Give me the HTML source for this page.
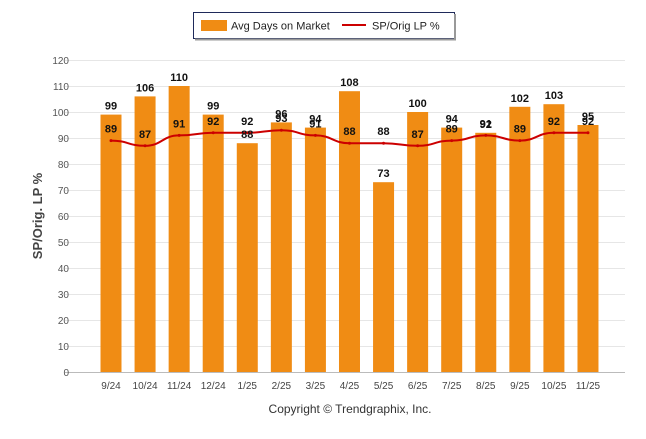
<!DOCTYPE html>
<html><head><meta charset="utf-8"><style>
body{margin:0;background:#fff;font-family:"Liberation Sans",sans-serif}
</style></head><body>
<svg width="646" height="434" xmlns="http://www.w3.org/2000/svg" font-family="Liberation Sans, sans-serif">
<g>
<rect x="193.5" y="12.5" width="261" height="26" fill="#fff" stroke="#1f2a5a" stroke-width="1"/>
<line x1="455" y1="14" x2="455" y2="40" stroke="#999" stroke-width="2"/>
<line x1="195" y1="39.5" x2="456" y2="39.5" stroke="#999" stroke-width="2"/>
<rect x="201" y="20" width="26" height="11" fill="#f08c14"/>
<text x="231" y="29.5" font-size="11" fill="#222">Avg Days on Market</text>
<line x1="342" y1="25" x2="366" y2="25" stroke="#cc0000" stroke-width="2"/>
<text x="372" y="29.5" font-size="11" fill="#222">SP/Orig LP %</text>
</g>
<text transform="translate(42,216) rotate(-90)" text-anchor="middle" font-size="13" font-weight="bold" fill="#444">SP/Orig. LP %</text>
<g id="grid"></g><g id="bars"></g><g id="line"></g><g id="labels"></g>
<text x="350" y="413" text-anchor="middle" font-size="12" fill="#333">Copyright © Trendgraphix, Inc.</text>
</svg>
<script>
const categories=["9/24","10/24","11/24","12/24","1/25","2/25","3/25","4/25","5/25","6/25","7/25","8/25","9/25","10/25","11/25"];
const daysOnMarket=[99,106,110,99,88,96,94,108,73,100,94,92,102,103,95];
const spOrigLP=[89,87,91,92,92,93,91,88,88,87,89,91,89,92,92];
const yTicks=[0,10,20,30,40,50,60,70,80,90,100,110,120];
const NS="http://www.w3.org/2000/svg";
const y=v=>372-v*2.6;
const x=i=>111+i*34.07;
function mk(t,a,p){const e=document.createElementNS(NS,t);for(const k in a)e.setAttribute(k,a[k]);document.getElementById(p).appendChild(e);return e;}
yTicks.forEach(v=>{
 const l=mk('line',{x1:65,x2:625,y1:y(v)+0.5,y2:y(v)+0.5,stroke:v===0?'#bbb':'#e6e6e6'},'grid');
 
 
 const t=mk('text',{x:69,y:y(v)+4,'text-anchor':'end','font-size':10,fill:'#555'},'grid');t.textContent=v;
 
 
});
categories.forEach((c,i)=>{
 const t=mk('text',{x:x(i),y:389,'text-anchor':'middle','font-size':10,fill:'#444'},'grid');t.textContent=c;
 
 
});
daysOnMarket.forEach((v,i)=>{
 const r=mk('rect',{x:x(i)-10.5,y:y(v),width:21,height:y(0)-y(v),fill:'#f08c14'},'bars');
 
 
 const t=mk('text',{x:x(i),y:y(v)-5,'text-anchor':'middle','font-size':11,'font-weight':'bold',fill:'#111'},'labels');t.textContent=v;
 
 
});
let d='';
spOrigLP.forEach((v,i)=>{
 const px=x(i),py=y(v);
 if(i===0)d+='M'+px+','+py;else{const qx=x(i-1),qy=y(spOrigLP[i-1]),m=(px-qx)/2;d+=' C'+(qx+m)+','+qy+' '+(px-m)+','+py+' '+px+','+py;}
});
const p=mk('path',{d:d,fill:'none',stroke:'#cc0000','stroke-width':2},'line');


spOrigLP.forEach((v,i)=>{
 const c=mk('circle',{cx:x(i),cy:y(v),r:1.5,fill:'#cc0000'},'line');
 
 
 const t=mk('text',{x:x(i),y:y(v)-8,'text-anchor':'middle','font-size':11,'font-weight':'bold',fill:'#111'},'labels');t.textContent=v;
 
 
});
</script>
</body></html>
